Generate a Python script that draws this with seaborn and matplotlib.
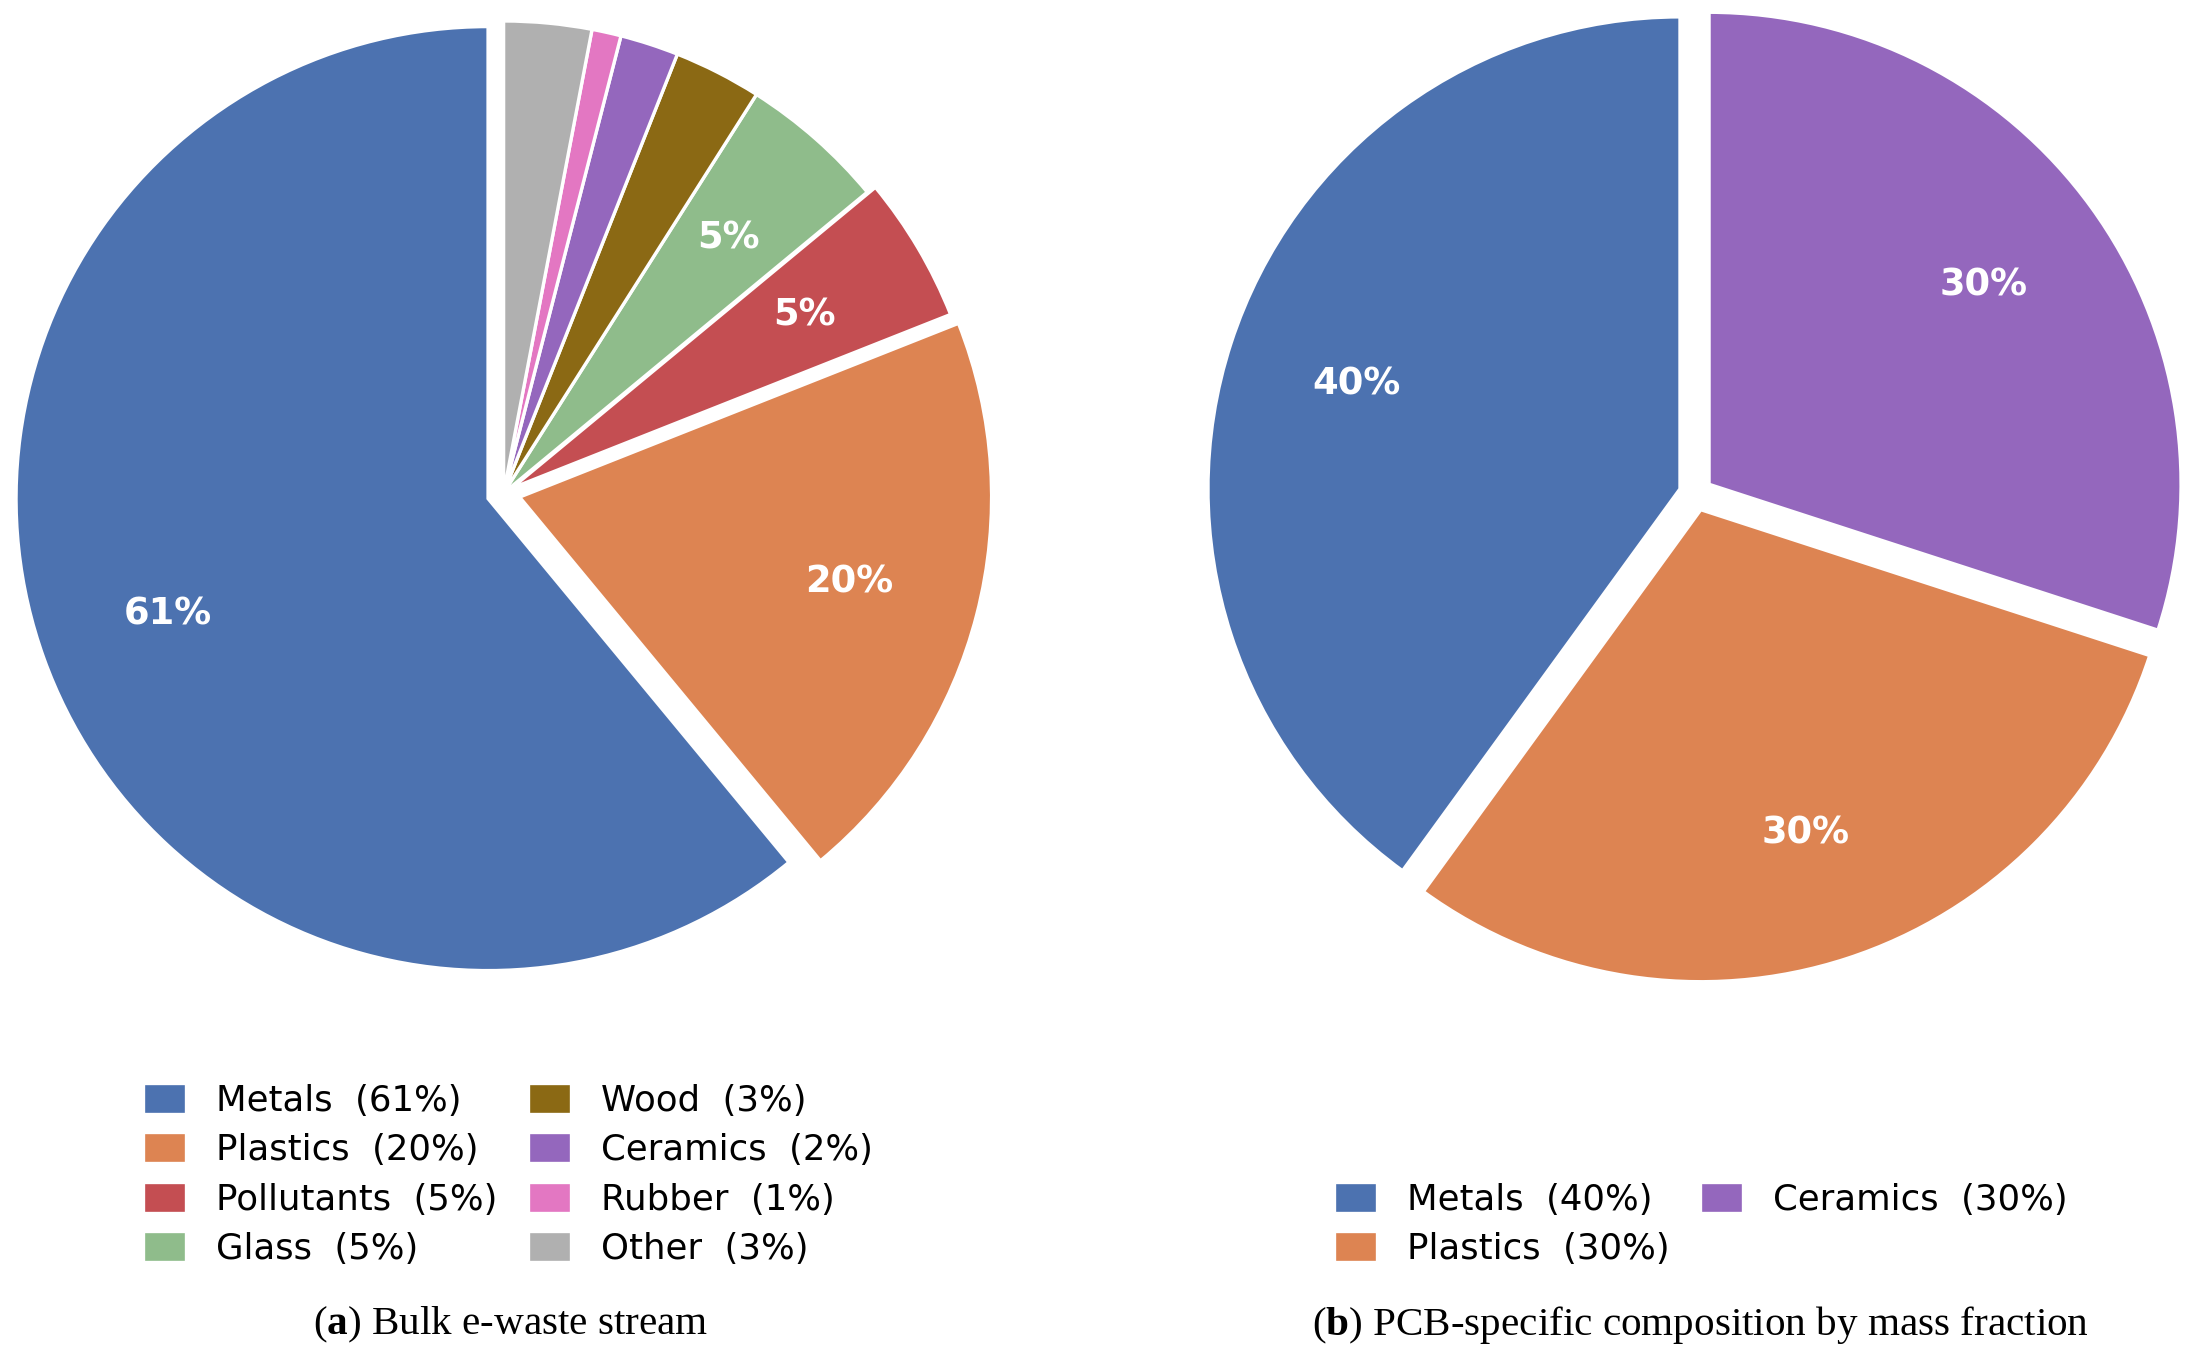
import matplotlib
matplotlib.use("Agg")
import matplotlib.pyplot as plt
import seaborn as sns

sns.set_theme(style="white")
plt.rcParams['font.family'] = ['DejaVu Sans']
plt.rcParams['text.color'] = 'black'
plt.rcParams['mathtext.fontset'] = 'custom'
plt.rcParams['mathtext.rm'] = 'Liberation Serif'
plt.rcParams['mathtext.bf'] = 'Liberation Serif:bold'

# ---------------- data ----------------
bulk_categories = ["Metals", "Plastics", "Pollutants", "Glass", "Wood", "Ceramics", "Rubber", "Other"]
bulk_values = [61, 20, 5, 5, 3, 2, 1, 3]
bulk_colors = ["#4C72B0", "#DD8452", "#C44E52", "#8FBC8B", "#8B6914", "#9467BD", "#E377C2", "#B0B0B0"]
bulk_explode = [0.035, 0.035, 0.02, 0, 0, 0, 0, 0]

pcb_categories = ["Metals", "Plastics", "Ceramics"]
pcb_values = [40, 30, 30]
pcb_colors = ["#4C72B0", "#DD8452", "#9467BD"]
pcb_explode = [0.035, 0.035, 0.035]

caption_a = r"($\mathbf{a}$) Bulk e-waste stream"
caption_b = r"($\mathbf{b}$) PCB-specific composition by mass fraction"

# ---------------- figure ----------------
W, H, DPI = 2196, 1366, 200
fig = plt.figure(figsize=(W / DPI, H / DPI), dpi=DPI)
LIM = 1.12


def pie_axes(cx, cy_top, R):
    S = R * 2 * LIM
    return fig.add_axes([(cx - S / 2) / W, (H - cy_top - S / 2) / H, S / W, S / H])


def draw_pie(ax, values, colors, explode, min_pct):
    wedges, texts, autotexts = ax.pie(
        values, colors=colors, explode=explode, startangle=90, counterclock=True,
        autopct=lambda p: f"{p:.0f}%" if p >= min_pct else "",
        pctdistance=0.72,
        wedgeprops=dict(edgecolor="white", linewidth=1.2),
        textprops=dict(color="white", fontweight="bold", fontsize=13.3),
    )
    ax.set_xlim(-LIM, LIM)
    ax.set_ylim(-LIM, LIM)
    ax.set_aspect("equal")
    ax.axis("off")
    return wedges


ax1 = pie_axes(503.6, 493, 472)
w1 = draw_pie(ax1, bulk_values, bulk_colors, bulk_explode, 4.5)
ax2 = pie_axes(1695.7, 494, 472)
w2 = draw_pie(ax2, pcb_values, pcb_colors, pcb_explode, 0)

leg_kw = dict(loc="lower center", ncol=2, frameon=False, fontsize=12.8,
              handlelength=1.2, handleheight=0.95, handletextpad=0.85,
              columnspacing=0.87, labelspacing=0.42, borderpad=0, borderaxespad=0,
              labelcolor="black")

fig.legend(w1, [f"{c}  ({v}%)" for c, v in zip(bulk_categories, bulk_values)],
           bbox_to_anchor=(508 / W, 100 / H), **leg_kw)
fig.legend(w2, [f"{c}  ({v}%)" for c, v in zip(pcb_categories, pcb_values)],
           bbox_to_anchor=(1701 / W, 100 / H), **leg_kw)

fig.text(511 / W, 41 / H, caption_a, ha="center", va="center", fontsize=14.8,
         family="Liberation Serif", color="black")
fig.text(1700 / W, 41 / H, caption_b, ha="center", va="center", fontsize=14.8,
         family="Liberation Serif", color="black")

fig.savefig("out.png", dpi=DPI, facecolor="white")
